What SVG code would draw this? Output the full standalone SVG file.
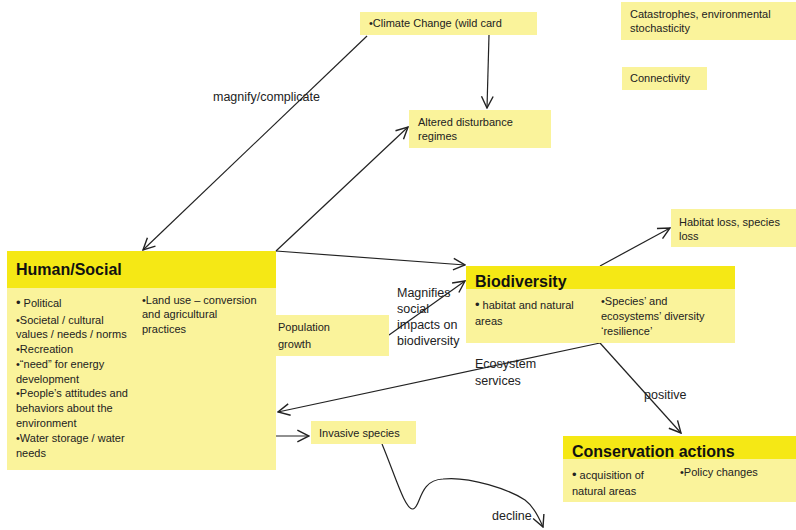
<svg xmlns="http://www.w3.org/2000/svg" width="796" height="530" viewBox="0 0 796 530">
  <style>
    .hdr { fill: #f5e815; }
    .body { fill: #faf39b; }
    .t { font-family: "Liberation Sans", Arial, sans-serif; font-size: 11px; fill: #222; }
    .h { font-family: "Liberation Sans", Arial, sans-serif; font-size: 16px; font-weight: bold; fill: #111; }
    .lbl { font-family: "Liberation Sans", Arial, sans-serif; font-size: 12.5px; fill: #222; }
    .c { stroke: #222; stroke-width: 1.2; fill: none; marker-end: url(#arr); }
  </style>
  <defs>
    <marker id="arr" markerUnits="userSpaceOnUse" markerWidth="14" markerHeight="14" viewBox="0 0 12 12" refX="11" refY="6" orient="auto">
      <path d="M1,1 L11,6 L1,11" fill="none" stroke="#222" stroke-width="1.2"/>
    </marker>
  </defs>
  <rect width="796" height="530" fill="#fff"/>

  <!-- connectors -->
  <g id="connectors">
    <path class="c" d="M367,36 L143,250"/>
    <path class="c" d="M489,35 L487,108"/>
    <path class="c" d="M276,251 L408,127"/>
    <path class="c" d="M276,251 L465,265"/>
    <path class="c" d="M389,335 L465,281"/>
    <path class="c" d="M600,266 L670,228"/>
    <path class="c" d="M600,343 L278,412"/>
    <path class="c" d="M600,343 L681,433"/>
    <path class="c" d="M276,436 L309,436"/>
    <path class="c" d="M382,444 C395,475 405,510 413,509 C421,508 418,480 443,479 C470,476 510,490 525,500 C533,506 538,515 543,527"/>
    <text class="lbl" x="213" y="101">magnify/complicate</text>
    <text class="lbl" x="397" y="297">Magnifies</text>
    <text class="lbl" x="397" y="313">social</text>
    <text class="lbl" x="397" y="329">impacts on</text>
    <text class="lbl" x="397" y="345">biodiversity</text>
    <text class="lbl" x="475" y="368">Ecosystem</text>
    <text class="lbl" x="475" y="385">services</text>
    <text class="lbl" x="644" y="399">positive</text>
    <text class="lbl" x="492" y="520">decline</text>
  </g>

  <g id="climate">
    <rect class="body" x="360" y="12" width="177" height="23"/>
    <text class="t" x="369" y="27">•Climate Change (wild card</text>
  </g>
  <g id="altered">
    <rect class="body" x="409" y="110" width="142" height="38"/>
    <text class="t" x="418" y="126">Altered disturbance</text>
    <text class="t" x="418" y="140">regimes</text>
  </g>
  <g id="catastrophes">
    <rect class="body" x="621" y="2" width="175" height="38"/>
    <text class="t" x="630" y="18">Catastrophes, environmental</text>
    <text class="t" x="630" y="32">stochasticity</text>
  </g>
  <g id="connectivity">
    <rect class="body" x="622" y="67" width="85" height="23"/>
    <text class="t" x="630" y="82">Connectivity</text>
  </g>
  <g id="habitat-loss">
    <rect class="body" x="671" y="209" width="125" height="38"/>
    <text class="t" x="679" y="226">Habitat loss, species</text>
    <text class="t" x="679" y="240">loss</text>
  </g>

  <g id="human-social">
    <rect class="body" x="7" y="288" width="269" height="182"/>
    <rect class="hdr" x="7" y="251" width="269" height="37"/>
    <text class="h" x="16" y="275">Human/Social</text>
    <text class="t" x="16" y="307"><tspan font-size="13">•</tspan> Political</text>
    <text class="t" x="16" y="324">•Societal / cultural</text>
    <text class="t" x="16" y="338">values / needs / norms</text>
    <text class="t" x="16" y="353">•Recreation</text>
    <text class="t" x="16" y="368">•“need” for energy</text>
    <text class="t" x="16" y="383">development</text>
    <text class="t" x="16" y="397">•People’s attitudes and</text>
    <text class="t" x="16" y="412">behaviors about the</text>
    <text class="t" x="16" y="427">environment</text>
    <text class="t" x="16" y="442">•Water storage / water</text>
    <text class="t" x="16" y="457">needs</text>
    <text class="t" x="142" y="304">•Land use – conversion</text>
    <text class="t" x="142" y="318">and agricultural</text>
    <text class="t" x="142" y="333">practices</text>
  </g>

  <g id="population">
    <rect class="body" x="276" y="315" width="113" height="41"/>
    <text class="t" x="278" y="331">Population</text>
    <text class="t" x="278" y="348">growth</text>
  </g>

  <g id="biodiversity">
    <rect class="body" x="466" y="289" width="269" height="54"/>
    <rect class="hdr" x="466" y="266" width="269" height="23"/>
    <text class="h" x="475" y="287">Biodiversity</text>
    <text class="t" x="475" y="309"><tspan font-size="13">•</tspan> habitat and natural</text>
    <text class="t" x="475" y="325">areas</text>
    <text class="t" x="601" y="305">•Species’ and</text>
    <text class="t" x="601" y="320">ecosystems’ diversity</text>
    <text class="t" x="601" y="335">‘resilience’</text>
  </g>

  <g id="invasive">
    <rect class="body" x="311" y="421" width="105" height="23"/>
    <text class="t" x="319" y="437">Invasive species</text>
  </g>

  <g id="conservation">
    <rect class="body" x="563" y="459" width="233" height="43"/>
    <rect class="hdr" x="563" y="436" width="233" height="23"/>
    <text class="h" x="572" y="457">Conservation actions</text>
    <text class="t" x="572" y="479"><tspan font-size="13">•</tspan> acquisition of</text>
    <text class="t" x="572" y="495">natural areas</text>
    <text class="t" x="680" y="476">•Policy changes</text>
  </g>
</svg>
